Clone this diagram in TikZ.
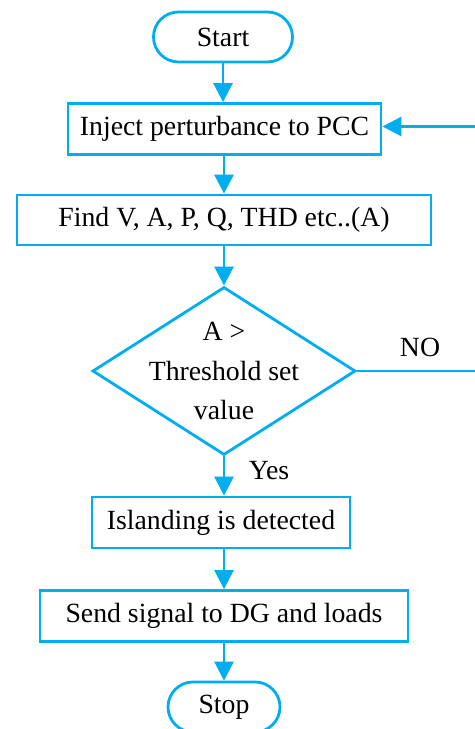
\documentclass[tikz,border=0pt]{standalone}
\usepackage{fontspec}
\setmainfont{Liberation Serif}
\usepackage{xcolor}
\usepackage{tikz}
\usetikzlibrary{arrows.meta,shapes.geometric}

\definecolor{lineblue}{RGB}{0,174,239}
\newcommand{\flowfont}{\fontsize{15.8}{22.7}\selectfont}

\begin{document}
\begin{tikzpicture}[
    every node/.style={font=\flowfont,text=black},
    box/.style={draw=lineblue,line width=1.6pt,minimum height=1.02cm,inner sep=0pt},
    term/.style={box,minimum height=1cm,rounded corners=0.5cm},
    flow/.style={lineblue,line width=1.6pt,-{Triangle[length=0.38cm,width=0.38cm]}},
    feed/.style={lineblue,line width=1.6pt}]
    \useasboundingbox (0,0) rectangle (9.5,14.58);
    % start / stop and the process boxes
    \node[term,minimum width=2.78cm] (start) at (4.46,13.84) {Start};
    \node[box,minimum width=6.26cm] (inject) at (4.49,12.0) {Inject perturbance to PCC};
    \node[box,minimum width=8.28cm,minimum height=1cm] (find) at (4.48,10.18) {Find V, A, P, Q, THD etc..(A)};
    \node[box,draw,shape=diamond,minimum width=5.26cm,minimum height=3.36cm] (check) at (4.48,7.16) {};
    \node[align=center] (checktext) at (check.center) {A >\\Threshold set\\value};
    \node[box,minimum width=5.16cm] (island) at (4.42,4.13) {Islanding is detected};
    \node[box,minimum width=7.36cm] (send) at (4.48,2.26) {Send signal to DG and loads};
    \node[term,minimum width=2.24cm] (stop) at (4.48,0.44) {Stop};
    % arrows down the chart
    \draw[flow] (start) -- (start |- inject.north);
    \draw[flow] (inject.south -| find) -- (find);
    \draw[flow] (find) -- (check);
    \draw[flow] (check.south) -- (check.south |- island.north)
        node[pos=0.35,right=0.35cm] (yes) {Yes};
    \draw[flow] (island.south -| send) -- (send);
    \draw[flow] (send) -- (stop);
    % loop back when the threshold is not reached
    \coordinate (loopdown) at (9.53,7.16);
    \coordinate (loopup) at (9.53,12.05);
    \draw[feed] (check.east) -- (loopdown) -- (loopup);
    \draw[flow] (loopup) -- (loopup -| inject.east);
    \node (no) at (8.4,7.64) {NO};
\end{tikzpicture}
\end{document}
